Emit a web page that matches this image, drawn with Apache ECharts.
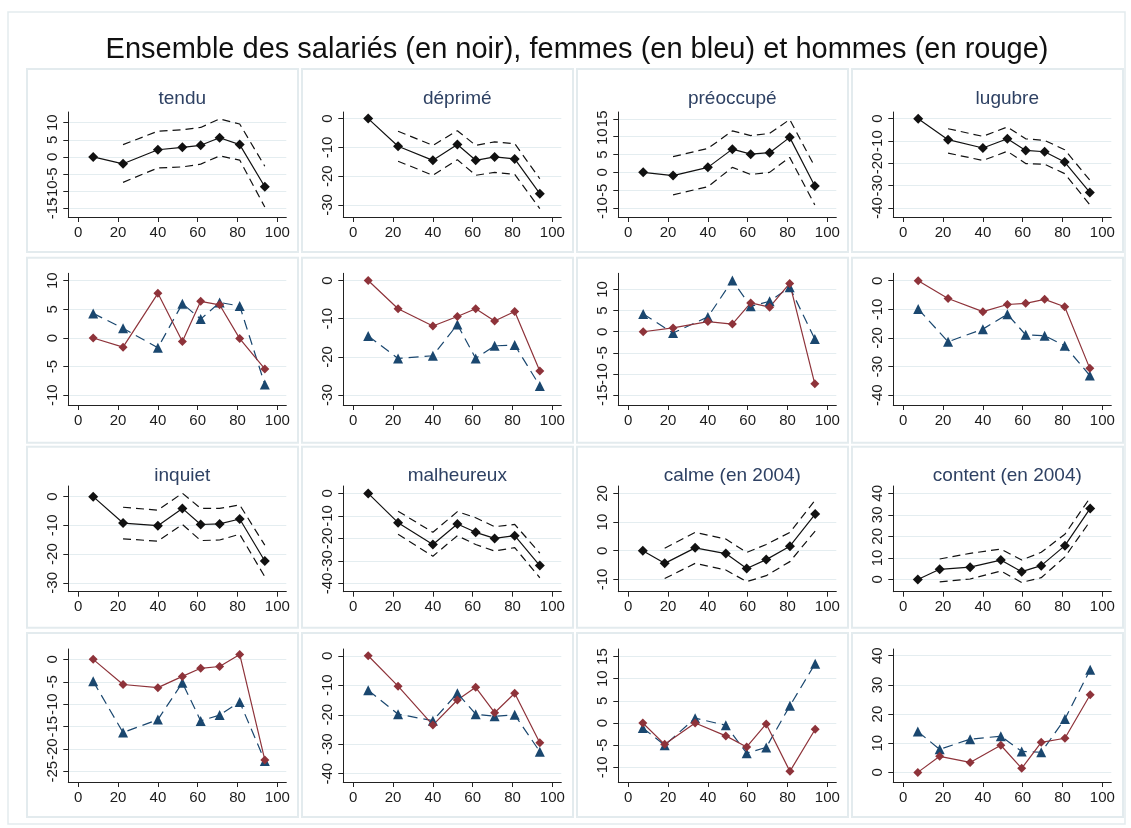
<!DOCTYPE html>
<html>
<head>
<meta charset="utf-8">
<title>Ensemble des salariés</title>
<script src="https://cdn.jsdelivr.net/npm/echarts@6/dist/echarts.min.js"></script>
<style>
html,body{margin:0;padding:0;background:#fff;}
#chart{width:1131px;height:828px;}
</style>
</head>
<body>
<div id="chart"></div>
<script type="text/javascript">
// positions des points (centiles)
var xRang = [7.5, 22.5, 40, 52.3, 61.5, 71, 81.1, 93.7];
var xRang2004 = [7.3, 18.3, 33.6, 49, 59.5, 69.3, 81.2, 93.9];
var xTicks = [0, 20, 40, 60, 80, 100];

// ensemble des salaries (noir) et intervalle de confiance
var tendu = [0, -2.0, 2.1, 2.8, 3.4, 5.6, 3.6, -8.7];
var tenduHaut = [3.6, 7.5, 7.9, 8.6, 11.1, 9.6, -2.7];
var tenduBas = [-7.4, -3.2, -2.9, -2.1, 0.3, -0.9, -14.6];
var deprime = [0, -9.6, -14.5, -9.0, -14.5, -13.3, -14.0, -26.1];
var deprimeHaut = [-4.4, -9.3, -4.2, -9.3, -8.1, -8.7, -20.9];
var deprimeBas = [-14.8, -19.7, -14.3, -19.7, -18.7, -19.4, -31.3];
var preoccupe = [0, -0.9, 1.4, 6.5, 5.1, 5.5, 9.8, -3.8];
var preoccupeHaut = [4.4, 6.7, 11.6, 10.3, 10.9, 14.8, 1.6];
var preoccupeBas = [-6.3, -4.0, 1.4, -0.6, 0, 4.2, -9.1];
var lugubre = [0, -9.4, -13.1, -9.0, -14.2, -14.8, -19.4, -33.0];
var lugubreHaut = [-4.5, -7.9, -3.7, -9.0, -9.7, -13.9, -27.5];
var lugubreBas = [-15.4, -18.7, -14.6, -20.1, -20.4, -24.6, -38.5];
var inquiet = [0, -9.2, -10.1, -4.1, -9.7, -9.5, -7.8, -22.4];
var inquietHaut = [-3.7, -4.7, 1.2, -4.1, -4.1, -2.9, -16.9];
var inquietBas = [-14.7, -15.5, -9.7, -15.3, -15.1, -13.1, -27.9];
var malheureux = [0, -13.0, -22.7, -13.6, -17.3, -20.0, -18.8, -32.1];
var malheureuxHaut = [-7.9, -17.3, -8.1, -10.8, -14.8, -13.8, -26.5];
var malheureuxBas = [-18.2, -27.9, -18.8, -22.7, -25.6, -24.1, -37.5];
var calme = [0, -4.4, 1.0, -1.0, -6.2, -3.1, 1.6, 12.8];
var calmeHaut = [0.9, 6.4, 4.1, -0.6, 2.2, 6.4, 17.7];
var calmeBas = [-9.7, -4.4, -6.7, -10.8, -8.7, -3.8, 6.9];
var content = [0, 4.7, 5.7, 9.0, 3.6, 6.4, 15.7, 33.0];
var contentHaut = [9.5, 12.1, 14.1, 9.0, 12.6, 21.0, 38.0];
var contentBas = [-1.1, 0.2, 3.9, -1.4, 0.8, 10.5, 27.1];

// hommes (rouge) et femmes (bleu)
var tenduH = [0, -1.6, 7.8, -0.6, 6.4, 5.8, -0.1, -5.4];
var tenduF = [4.3, 1.7, -1.7, 6.0, 3.3, 6.2, 5.6, -8.1];
var deprimeH = [0, -7.4, -11.9, -9.4, -7.4, -10.6, -8.1, -23.7];
var deprimeF = [-14.5, -20.4, -19.7, -11.5, -20.4, -17.1, -16.9, -27.6];
var preoccupeH = [0, 0.9, 2.4, 1.8, 6.8, 5.8, 11.4, -12.3];
var preoccupeF = [4.2, -0.3, 3.5, 12.1, 6.0, 7.2, 10.5, -1.7];
var lugubreH = [0, -6.2, -10.8, -8.3, -7.9, -6.5, -9.1, -30.6];
var lugubreF = [-9.9, -21.3, -16.9, -11.7, -18.9, -19.2, -22.7, -33.1];
var inquietH = [0, -5.6, -6.3, -3.8, -2.0, -1.6, 1.1, -22.4];
var inquietF = [-4.9, -16.3, -13.4, -5.2, -13.7, -12.4, -9.5, -22.6];
var malheureuxH = [0, -10.3, -23.5, -15.0, -10.7, -19.3, -12.7, -29.5];
var malheureuxF = [-11.7, -19.8, -22.0, -12.7, -19.8, -20.5, -20.0, -32.5];
var calmeH = [0, -4.8, 0, -2.9, -5.4, -0.2, -10.9, -1.4];
var calmeF = [-1.1, -5.0, 1.1, -0.5, -6.8, -5.5, 3.9, 13.4];
var contentH = [0, 5.5, 3.4, 9.3, 1.4, 10.3, 11.7, 26.6];
var contentF = [14.0, 7.9, 11.4, 12.4, 7.2, 6.9, 18.3, 35.2];

// graduations de l'axe vertical
var ticks15a10 = [-15, -10, -5, 0, 5, 10];
var ticks30a0 = [-30, -20, -10, 0];
var ticks10a15 = [-10, -5, 0, 5, 10, 15];
var ticks40a0 = [-40, -30, -20, -10, 0];
var ticks10a10 = [-10, -5, 0, 5, 10];
var ticksCalme = [-10, 0, 10, 20];
var ticks0a40 = [0, 10, 20, 30, 40];
var ticks25a0 = [-25, -20, -15, -10, -5, 0];

var panneaux = [
	{titre:'tendu', x:xRang, noir:tendu, haut:tenduHaut, bas:tenduBas, ticks:ticks15a10, min:-17.5, max:13.1},
	{titre:'déprimé', x:xRang, noir:deprime, haut:deprimeHaut, bas:deprimeBas, ticks:ticks30a0, min:-34.2, max:2.3},
	{titre:'préoccupé', x:xRang, noir:preoccupe, haut:preoccupeHaut, bas:preoccupeBas, ticks:ticks10a15, min:-12.5, max:16.9},
	{titre:'lugubre', x:xRang, noir:lugubre, haut:lugubreHaut, bas:lugubreBas, ticks:ticks40a0, min:-44, max:3},
	{x:xRang, hommes:tenduH, femmes:tenduF, ticks:ticks10a10, min:-11.7, max:11.3},
	{x:xRang, hommes:deprimeH, femmes:deprimeF, ticks:ticks30a0, min:-32.6, max:1.9},
	{x:xRang, hommes:preoccupeH, femmes:preoccupeF, ticks:ticks15a10, min:-17.3, max:13.8},
	{x:xRang, hommes:lugubreH, femmes:lugubreF, ticks:ticks40a0, min:-43.4, max:2.6},
	{titre:'inquiet', x:xRang, noir:inquiet, haut:inquietHaut, bas:inquietBas, ticks:ticks30a0, min:-33.1, max:3.7},
	{titre:'malheureux', x:xRang, noir:malheureux, haut:malheureuxHaut, bas:malheureuxBas, ticks:ticks40a0, min:-43.7, max:3.3},
	{titre:'calme (en 2004)', x:xRang2004, noir:calme, haut:calmeHaut, bas:calmeBas, ticks:ticksCalme, min:-14.3, max:22.6},
	{titre:'content (en 2004)', x:xRang2004, noir:content, haut:contentHaut, bas:contentBas, ticks:ticks0a40, min:-5.7, max:43.4},
	{x:xRang, hommes:inquietH, femmes:inquietF, ticks:ticks25a0, min:-27.3, max:2.3},
	{x:xRang, hommes:malheureuxH, femmes:malheureuxF, ticks:ticks40a0, min:-42.8, max:2.3},
	{x:xRang2004, hommes:calmeH, femmes:calmeF, ticks:ticks10a15, min:-13.3, max:16.7},
	{x:xRang2004, hommes:contentH, femmes:contentF, ticks:ticks0a40, min:-3.3, max:42.3}
];

// mise en page
var police = '"Liberation Sans", Arial, sans-serif';
var colGauche = 27, colPas = 275, panLarg = 271;
var rangHaut = [69, 257.7, 446.7, 633];
var rangHauteur = [183, 185, 181, 184];
var grilleHaut = [112, 273.3, 486, 649];
var grilleHauteur = [105, 131.7, 105.7, 133];
var NOIR = '#111', ROUGE = '#8e333a', BLEU = '#1a476f';

function paires(xs, ys, debut) {
	return ys.map(function(v, i){ return [xs[i + debut], v]; });
}
// les etiquettes qui se chevauchent sont reparties sur deux axes superposes
function unSurDeux(vals, reste) {
	return vals.filter(function(v, k){ return k % 2 === reste; });
}

var grids = [], xAxes = [], yAxes = [], yAxes2 = [], series = [], titres = [], cadres = [];

titres.push({
	text: 'Ensemble des salariés (en noir), femmes (en bleu) et hommes (en rouge)',
	left: 572, top: 30, textAlign: 'center',
	textStyle: {fontFamily: police, fontSize: 29, fontWeight: 'normal', color: '#111'}
});

cadres.push({type:'rect', shape:{x:8, y:12, width:1117, height:812}, style:{fill:'#fff', stroke:'#e3ebee', lineWidth:1.5}, z:-10});

panneaux.forEach(function(p, i){
	var r = Math.floor(i / 4), c = i % 4;
	var gl = colGauche + 41.3 + colPas * c;
	cadres.push({type:'rect', shape:{x:colGauche + colPas * c, y:rangHaut[r], width:panLarg, height:rangHauteur[r]},
		style:{fill:'#fff', stroke:'#e3ebee', lineWidth:2}, z:-9});
	grids.push({left: gl, top: grilleHaut[r], width: 218, height: grilleHauteur[r]});
	xAxes.push({
		type:'value', gridIndex:i, min:-5, max:104.5,
		axisLine:{show:true, onZero:false, lineStyle:{color:'#222', width:1}},
		axisTick:{show:true, length:5, customValues:xTicks, lineStyle:{color:'#222'}},
		axisLabel:{customValues:xTicks, margin:8, color:'#1c1c1c', fontFamily:police, fontSize:15, hideOverlap:false},
		splitLine:{show:false}
	});
	yAxes.push({
		type:'value', gridIndex:i, position:'left', min:p.min, max:p.max,
		axisLine:{show:true, onZero:false, lineStyle:{color:'#222', width:1}},
		axisTick:{show:true, length:5, customValues:p.ticks, lineStyle:{color:'#222'}},
		axisLabel:{customValues:unSurDeux(p.ticks, 0), rotate:90, margin:8, color:'#1c1c1c', fontFamily:police, fontSize:15,
			hideOverlap:false, showMinLabel:true, showMaxLabel:true},
		splitLine:{show:true, lineStyle:{color:'#e4edf0', width:1}}
	});
	yAxes2.push({
		type:'value', gridIndex:i, position:'left', offset:0, min:p.min, max:p.max,
		axisLine:{show:false}, axisTick:{show:false}, splitLine:{show:false},
		axisLabel:{customValues:unSurDeux(p.ticks, 1), rotate:90, margin:8, color:'#1c1c1c', fontFamily:police, fontSize:15,
			hideOverlap:false, showMinLabel:true, showMaxLabel:true}
	});
	if (p.titre) {
		titres.push({
			text: p.titre, left: gl + 109, top: rangHaut[r] + 15, textAlign:'center',
			textStyle:{fontFamily: police, fontSize: 19, fontWeight:'normal', color:'#2e4163'}
		});
	}
	if (p.noir) {
		series.push({type:'line', xAxisIndex:i, yAxisIndex:i, data:paires(p.x, p.haut, 1), symbol:'none',
			lineStyle:{color:NOIR, width:1.2, type:[8, 5]}, silent:true, animation:false});
		series.push({type:'line', xAxisIndex:i, yAxisIndex:i, data:paires(p.x, p.bas, 1), symbol:'none',
			lineStyle:{color:NOIR, width:1.2, type:[8, 5]}, silent:true, animation:false});
		series.push({type:'line', xAxisIndex:i, yAxisIndex:i, data:paires(p.x, p.noir, 0), symbol:'diamond', symbolSize:10,
			itemStyle:{color:NOIR}, lineStyle:{color:NOIR, width:1.2}, silent:true, animation:false});
	} else {
		series.push({type:'line', xAxisIndex:i, yAxisIndex:i, data:paires(p.x, p.femmes, 0), symbol:'triangle', symbolSize:10,
			itemStyle:{color:BLEU}, lineStyle:{color:BLEU, width:1.2, type:[10, 6]}, silent:true, animation:false});
		series.push({type:'line', xAxisIndex:i, yAxisIndex:i, data:paires(p.x, p.hommes, 0), symbol:'diamond', symbolSize:9,
			itemStyle:{color:ROUGE}, lineStyle:{color:ROUGE, width:1.2}, silent:true, animation:false});
	}
});

var chart = echarts.init(document.getElementById('chart'), null, {renderer:'canvas'});
chart.setOption({
	backgroundColor:'#fff',
	animation:false,
	title: titres,
	graphic: cadres,
	grid: grids,
	xAxis: xAxes,
	yAxis: yAxes.concat(yAxes2),
	series: series
});
</script>
</body>
</html>
